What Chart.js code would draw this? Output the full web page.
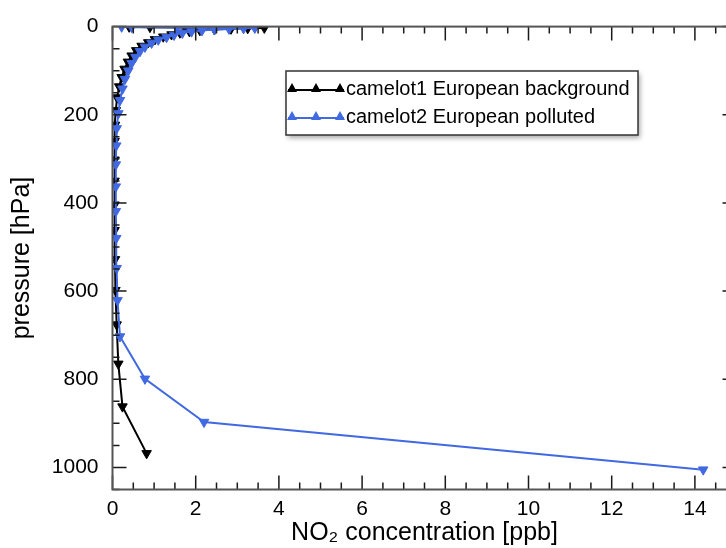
<!DOCTYPE html>
<html><head><meta charset="utf-8">
<script src="https://cdn.jsdelivr.net/npm/chart.js@4.4.1/dist/chart.umd.min.js"></script>
<style>
html,body{margin:0;padding:0;background:#fff;overflow:hidden;}
#wrap{position:relative;width:750px;height:548px;}
</style></head><body>
<div id="wrap"><canvas id="c"></canvas></div>
<script>
const seriesNames = ['camelot1 European background', 'camelot2 European polluted'];
const seriesColors = ['#000000', '#4169e1'];
// camelot1 European background
const bgPressure = [968, 862, 765, 676, 598, 528, 462, 404, 350, 302, 260, 223, 190, 161, 136, 115, 96, 80, 66, 54, 44, 36, 29, 23, 18, 14, 11, 8.5, 6.5, 5, 3.9, 2.9, 1.9, 1.2, 0.5];
const bgNO2      = [0.82, 0.24, 0.14, 0.1, 0.07, 0.06, 0.05, 0.05, 0.05, 0.05, 0.05, 0.06, 0.08, 0.11, 0.16, 0.22, 0.29, 0.37, 0.46, 0.57, 0.7, 0.86, 1.02, 1.22, 1.42, 1.62, 1.85, 2.1, 2.45, 2.85, 3.25, 3.65, 1.74, 0.9, 0.4];
// camelot2 European polluted
const polPressure = [1005, 897, 799, 703, 621, 548, 480, 419, 363, 313, 270, 231, 197, 167, 141, 119, 100, 83, 69, 56, 46, 37, 30, 24, 19, 14.5, 11.4, 8.8, 6.7, 5.2, 4, 3, 2, 1.2, 0.5];
const polNO2      = [14.2, 2.2, 0.78, 0.18, 0.12, 0.1, 0.09, 0.08, 0.08, 0.08, 0.09, 0.1, 0.14, 0.18, 0.24, 0.3, 0.38, 0.46, 0.55, 0.66, 0.78, 0.94, 1.1, 1.3, 1.48, 1.68, 1.9, 2.15, 2.45, 2.8, 3.15, 3.42, 1.54, 0.46, 0.22];

const xTicks = [0, 2, 4, 6, 8, 10, 12, 14];
const yTicks = [0, 200, 400, 600, 800, 1000];
const xRange = [0, 15];
const yRange = [0, 1050];
const xMinorStep = 0.5, yMinorStep = 50;
const xTitle = 'NO\u2082 concentration [ppb]';
const yTitle = 'pressure [hPa]';

const FONT = '"Liberation Sans", Arial, Helvetica, sans-serif';

function toPoints(xs, ps) { return ps.map((p, i) => ({x: xs[i], y: p})); }

const frame = {
  id: 'frame',
  afterDatasetsDraw(chart) {
    const {ctx, chartArea: a, scales: {x, y}} = chart;
    ctx.save();
    ctx.strokeStyle = '#1a1a1a';
    ctx.lineWidth = 1.5;
    ctx.beginPath();
    for (let v = xRange[0]; v <= xRange[1] + 1e-9; v += xMinorStep) {
      const major = Math.abs(v / 2 - Math.round(v / 2)) < 1e-9;
      const len = major ? 14 : 7;
      const px = x.getPixelForValue(v);
      ctx.moveTo(px, a.bottom); ctx.lineTo(px, a.bottom - len);
      ctx.moveTo(px, a.top); ctx.lineTo(px, a.top + len);
    }
    for (let v = yRange[0]; v <= yRange[1] + 1e-9; v += yMinorStep) {
      const major = v % 200 === 0;
      const len = major ? 14 : 7;
      const py = y.getPixelForValue(v);
      ctx.moveTo(a.left, py); ctx.lineTo(a.left + len, py);
      ctx.moveTo(a.right, py); ctx.lineTo(a.right - len, py);
    }
    ctx.stroke();
    ctx.strokeStyle = '#555';
    ctx.lineWidth = 2;
    ctx.strokeRect(a.left, a.top, a.right - a.left, a.bottom - a.top);
    ctx.restore();
  },
  afterDraw(chart) {
    const {ctx} = chart;
    const box = {l: 286, t: 71, r: 638, b: 135};
    ctx.save();
    ctx.shadowColor = 'rgba(0,0,0,0.35)';
    ctx.shadowBlur = 5;
    ctx.shadowOffsetX = 2;
    ctx.shadowOffsetY = 3;
    ctx.fillStyle = '#fff';
    ctx.fillRect(box.l, box.t, box.r - box.l, box.b - box.t);
    ctx.restore();
    ctx.save();
    ctx.strokeStyle = '#333';
    ctx.lineWidth = 1.5;
    ctx.strokeRect(box.l, box.t, box.r - box.l, box.b - box.t);
    const rows = [88, 116];
    seriesNames.forEach((name, i) => {
      const cy = rows[i];
      ctx.strokeStyle = seriesColors[i];
      ctx.fillStyle = seriesColors[i];
      ctx.lineWidth = 2;
      ctx.beginPath(); ctx.moveTo(288, cy + 2); ctx.lineTo(344, cy + 2); ctx.stroke();
      [292, 316, 340].forEach(mx => {
        ctx.beginPath();
        ctx.moveTo(mx, cy - 5);
        ctx.lineTo(mx + 5, cy + 4);
        ctx.lineTo(mx - 5, cy + 4);
        ctx.closePath();
        ctx.fill();
      });
      ctx.fillStyle = '#000';
      ctx.font = '20px ' + FONT;
      ctx.textBaseline = 'middle';
      ctx.textAlign = 'left';
      ctx.fillText(name, 346, cy + 1);
    });
    ctx.restore();
  }
};

const common = {
  showLine: true, borderWidth: 2, pointStyle: 'triangle', rotation: 180,
  pointRadius: 5.5, pointBorderWidth: 1, pointHoverRadius: 5.5,
  clip: {left: 0, top: 0, right: 20, bottom: 20}
};

new Chart(document.getElementById('c'), {
  type: 'scatter',
  data: {
    datasets: [
      Object.assign({label: seriesNames[0], data: toPoints(bgNO2, bgPressure),
        borderColor: seriesColors[0], backgroundColor: seriesColors[0], order: 2}, common),
      Object.assign({label: seriesNames[1], data: toPoints(polNO2, polPressure),
        borderColor: seriesColors[1], backgroundColor: seriesColors[1], order: 1}, common)
    ]
  },
  options: {
    responsive: true, maintainAspectRatio: false, animation: false,
    devicePixelRatio: 1,
    layout: {padding: {left: 0, top: 17.5, right: 13.5, bottom: 0}},
    plugins: {legend: {display: false}, tooltip: {enabled: false}},
    scales: {
      x: {
        type: 'linear', min: xRange[0], max: xRange[1],
        afterBuildTicks: s => { s.ticks = xTicks.map(v => ({value: v})); },
        afterFit: s => { s.height = 58.5; },
        grid: {display: false, drawTicks: false},
        border: {display: false},
        ticks: {padding: 7, color: '#000', font: {family: FONT, size: 21}, maxRotation: 0, autoSkip: false,
                callback: v => String(v)},
        title: {display: true, text: xTitle, color: '#000', font: {family: FONT, size: 25}, padding: {top: 0, bottom: 0}}
      },
      y: {
        type: 'linear', reverse: true, min: yRange[0], max: yRange[1],
        afterBuildTicks: s => { s.ticks = yTicks.map(v => ({value: v})); },
        afterFit: s => { s.width = 112.5; },
        grid: {display: false, drawTicks: false},
        border: {display: false},
        ticks: {padding: 14, color: '#000', font: {family: FONT, size: 21}, autoSkip: false,
                callback: v => String(v)},
        title: {display: true, text: yTitle, color: '#000', font: {family: FONT, size: 25}, padding: {top: 7, bottom: 0}}
      }
    }
  },
  plugins: [frame]
});
</script>
</body></html>
